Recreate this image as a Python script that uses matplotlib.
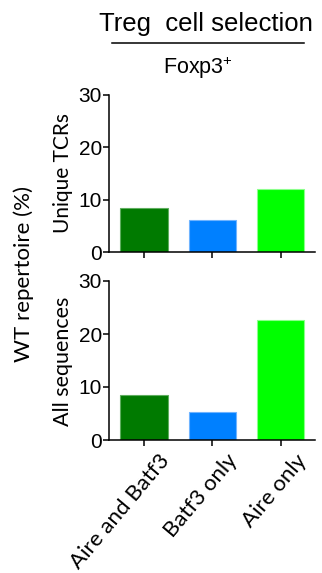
import matplotlib
matplotlib.use("Agg")
import matplotlib.pyplot as plt
from matplotlib.lines import Line2D
from matplotlib.transforms import ScaledTranslation

plt.rcParams['font.family'] = ['Liberation Sans', 'DejaVu Sans']
plt.rcParams['mathtext.default'] = 'regular'

# data
groepen = ["Aire and Batf3", "Batf3 only", "Aire only"]
unieke_tcrs = [8.5, 6.2, 12.1]
alle_sequenties = [8.5, 5.3, 22.7]
kleuren = ["#007a00", "#0080ff", "#00ff00"]
randen = ["#5fae5f", "#6fb4ff", "#8cff8c"]
y_ticks = [0, 10, 20, 30]

W, H = 322, 573
fig = plt.figure(figsize=(W / 100, H / 100), dpi=100)

def px_axes(left, top, right, bottom):
    return fig.add_axes([left / W, 1 - bottom / H, (right - left) / W, (bottom - top) / H])

ax1 = px_axes(109, 95, 315, 252)
ax2 = px_axes(109, 281, 315, 440)

for ax, waarden in [(ax1, unieke_tcrs), (ax2, alle_sequenties)]:
    x = range(len(groepen))
    ax.bar(x, waarden, width=0.69, color=kleuren, edgecolor=randen, linewidth=0.8)
    ax.set_xlim(-0.51, 2.5)
    ax.set_ylim(0, 30)
    ax.set_yticks(y_ticks)
    ax.set_xticks(list(x))
    for s in ["top", "right"]:
        ax.spines[s].set_visible(False)
    for s in ["left", "bottom"]:
        ax.spines[s].set_linewidth(1.1)
    ax.tick_params(axis="y", labelsize=15, width=1.1, length=4, pad=1)
    ax.tick_params(axis="x", width=1.1, length=4)

ax1.set_xticklabels([])
ax2.set_xticklabels(groepen, rotation=50, ha="right", va="top", rotation_mode="anchor",
                    fontsize=16, family=["Lato", "DejaVu Sans"])
verschuiving = ScaledTranslation(14 / 100, 0, fig.dpi_scale_trans)
for lab in ax2.get_xticklabels():
    lab.set_transform(lab.get_transform() + verschuiving)

# labels
fig.text(24 / W, 1 - 274 / H, "WT repertoire (%)", rotation=90, ha="center", va="center",
         fontsize=16, family=["Lato", "DejaVu Sans"])
fig.text(63 / W, 1 - 173 / H, "Unique TCRs", rotation=90, ha="center", va="center",
         fontsize=15, family=["Lato", "DejaVu Sans"])
fig.text(63 / W, 1 - 361 / H, "All sequences", rotation=90, ha="center", va="center",
         fontsize=15.5, family=["Lato", "DejaVu Sans"])

# title block
fig.text(206 / W, 1 - 31 / H, "Treg  cell selection", ha="center", va="baseline", fontsize=18.5)
fig.add_artist(Line2D([112 / W, 304 / W], [1 - 43 / H, 1 - 43 / H], color="black", linewidth=1.1))
fig.text(198 / W, 1 - 74 / H, "Foxp3$^{+}$", ha="center", va="baseline", fontsize=15.5)

fig.savefig("out.png", dpi=100)
